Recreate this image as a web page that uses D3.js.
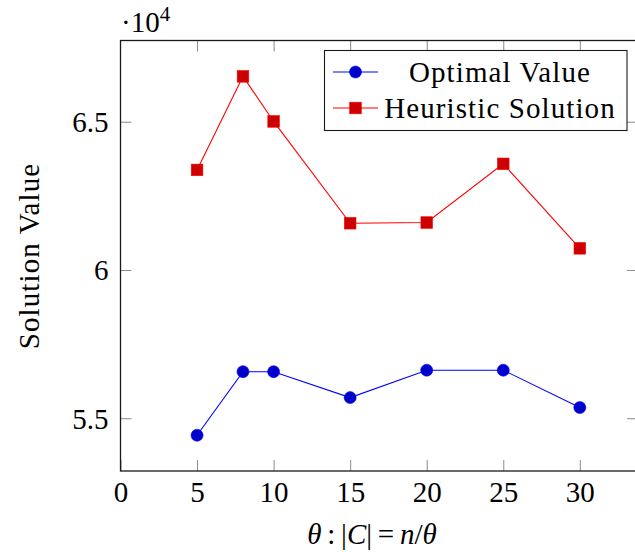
<!DOCTYPE html>
<html>
<head>
<meta charset="utf-8">
<style>
  body { margin: 0; background: #fff; }
  svg text { font-family: "Liberation Serif", "DejaVu Serif", serif; fill: #000; }
</style>
</head>
<body>
<svg width="635" height="552"></svg>
<script src="https://d3js.org/d3.v7.min.js"></script>
<script>
// theta values on the x axis
var thetas = [5, 8, 10, 15, 20, 25, 30];
var optimalValues   = [54426, 56570, 56570, 55695, 56620, 56620, 55360];
var heuristicValues = [63375, 66530, 65010, 61576, 61600, 63580, 60730];
var xTicks = [0, 5, 10, 15, 20, 25, 30];
var yTicks = [55000, 60000, 65000];
var yTickLabels = ["5.5", "6", "6.5"];
var seriesNames = ["Optimal Value", "Heuristic Solution"];

var svg = d3.select("svg");

var plotLeft = 120.5, plotRight = 638, plotTop = 40.5, plotBottom = 471;

var x = d3.scaleLinear().domain([0, 33.8]).range([plotLeft, plotRight]);
var y = d3.scaleLinear().domain([53220, 67740]).range([plotBottom, plotTop]);

var fontSize = 29;

// axes (ticks inside, mirrored on top/right)
var gx = svg.append("g").attr("transform", "translate(0," + plotBottom + ")")
  .call(d3.axisBottom(x).tickValues(xTicks).tickSize(-11).tickPadding(10).tickFormat(d3.format("d")));
svg.append("g").attr("transform", "translate(0," + plotTop + ")")
  .call(d3.axisTop(x).tickValues(xTicks.slice(1)).tickSize(-11).tickFormat(""));
var gy = svg.append("g").attr("transform", "translate(" + plotLeft + ",0)")
  .call(d3.axisLeft(y).tickValues(yTicks).tickSize(-11).tickPadding(12)
    .tickFormat(function(d, i) { return yTickLabels[i]; }));
svg.append("g").attr("transform", "translate(" + plotRight + ",0)")
  .call(d3.axisRight(y).tickValues(yTicks).tickSize(-11).tickFormat(""));

svg.selectAll(".domain").remove();
svg.selectAll(".tick line").attr("stroke", "#8a8a8a").attr("stroke-width", 1);
svg.selectAll(".tick text")
  .style("font-family", "'Liberation Serif', serif")
  .style("font-size", fontSize + "px")
  .attr("fill", "#000");
gx.selectAll(".tick text").attr("dy", "0.72em");
gy.selectAll(".tick text").attr("dy", "0.34em");

// frame
svg.append("rect")
  .attr("x", plotLeft).attr("y", plotTop)
  .attr("width", plotRight - plotLeft).attr("height", plotBottom - plotTop)
  .attr("fill", "none").attr("stroke", "#1a1a1a").attr("stroke-width", 1.3);

// multiplier label
var mult = svg.append("text").attr("x", 121).attr("y", 32).style("font-size", fontSize + "px");
mult.append("tspan").text("·10");
mult.append("tspan").attr("dy", -11).style("font-size", "21px").text("4");

// series
var series = [
  { name: seriesNames[0], values: optimalValues, line: "#0000ff", fill: "#0000cc", mark: "circle" },
  { name: seriesNames[1], values: heuristicValues, line: "#ff0000", fill: "#cc0000", mark: "square" }
];

var line = d3.line()
  .x(function(d) { return x(d[0]); })
  .y(function(d) { return y(d[1]); });

function drawMark(g, kind, cx, cy, s) {
  if (kind === "circle") {
    g.append("circle").attr("cx", cx).attr("cy", cy).attr("r", 6)
      .attr("fill", s.fill).attr("stroke", s.line).attr("stroke-width", 0.6);
  } else {
    g.append("rect").attr("x", cx - 5.8).attr("y", cy - 5.8).attr("width", 11.6).attr("height", 11.6)
      .attr("fill", s.fill).attr("stroke", s.line).attr("stroke-width", 0.6);
  }
}

series.forEach(function(s) {
  var pts = thetas.map(function(t, i) { return [t, s.values[i]]; });
  svg.append("path").datum(pts)
    .attr("d", line)
    .attr("fill", "none")
    .attr("stroke", s.line)
    .attr("stroke-width", 1.1);
  var g = svg.append("g");
  pts.forEach(function(p) { drawMark(g, s.mark, x(p[0]), y(p[1]), s); });
});

// legend
var lg = svg.append("g");
lg.append("rect").attr("x", 324.5).attr("y", 50.5).attr("width", 302.5).attr("height", 80)
  .attr("fill", "#fff").attr("stroke", "#1a1a1a").attr("stroke-width", 1.1);
series.forEach(function(s, i) {
  var cy = 72 + i * 36;
  lg.append("line").attr("x1", 333).attr("x2", 378).attr("y1", cy).attr("y2", cy)
    .attr("stroke", s.line).attr("stroke-width", 1.1);
  drawMark(lg, s.mark, 355.5, cy, s);
  lg.append("text").attr("x", 500).attr("y", cy).attr("dy", "0.34em")
    .attr("text-anchor", "middle")
    .style("font-size", fontSize + "px").style("letter-spacing", "1.1px")
    .text(s.name);
});

// axis titles
svg.append("text")
  .attr("transform", "translate(39,256) rotate(-90)")
  .attr("text-anchor", "middle")
  .style("font-size", fontSize + "px").style("letter-spacing", "1.1px")
  .text("Solution Value");

var xl = svg.append("text").attr("x", 372).attr("y", 544)
  .attr("text-anchor", "middle").style("font-size", fontSize + "px");
xl.append("tspan").style("font-style", "italic").text("θ");
xl.append("tspan").text("\u2009:\u2009|");
xl.append("tspan").style("font-style", "italic").text("C");
xl.append("tspan").text("|\u2009=\u2009");
xl.append("tspan").style("font-style", "italic").text("n");
xl.append("tspan").text("/");
xl.append("tspan").style("font-style", "italic").text("θ");
</script>
</body>
</html>
